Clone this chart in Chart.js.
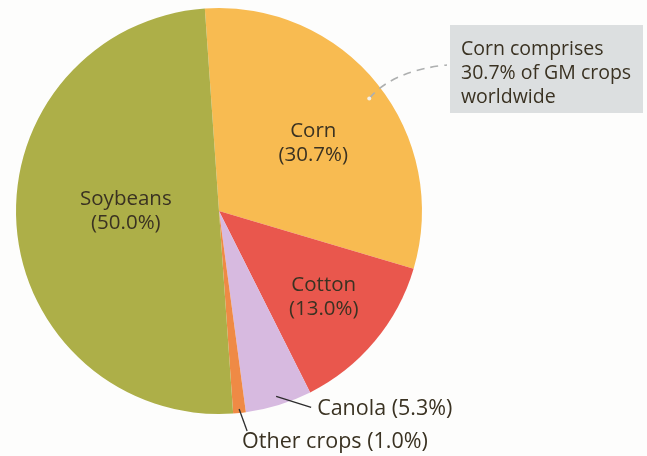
<!DOCTYPE html>
<html>
<head>
<meta charset="utf-8">
<script src="https://cdn.jsdelivr.net/npm/chart.js@4/dist/chart.umd.min.js"></script>
<style>
  html, body { margin: 0; padding: 0; background: #fdfdfc; }
  #wrap { width: 647px; height: 456px; }
</style>
</head>
<body>
<div id="wrap"><canvas id="pie" width="647" height="456"></canvas></div>
<script>
const crops = ['Corn', 'Cotton', 'Canola', 'Other crops', 'Soybeans'];
const shares = [30.7, 13.0, 5.3, 1.0, 50.0];
const sliceColors = ['#f8bb51', '#e9574d', '#d7bae0', '#ef8a45', '#adaf48'];
const calloutLines = ['Corn comprises', '30.7% of GM crops', 'worldwide'];

const FONT = '"Open Sans", "Noto Sans", sans-serif';
const INK = '#3a3222';

// where each slice's text goes: inside labels sit on the mid angle at a
// fraction of the radius, outside ones hang off a short leader line
const labelStyle = [
  { inside: true, frac: 0.57, dx: 4, dy: 5 },
  { inside: true, frac: 0.66, dx: 2, dy: 0 },
  { inside: false, frac: 0.955, ex: 35, ey: 11, tx: 6, ty: 2 },
  { inside: false, frac: 0.98, ex: 8, ey: 22, tx: -5, ty: 11 },
  { inside: true, frac: 0.46, dx: 0, dy: -6 }
];

const labelPlugin = {
  id: 'sliceLabels',
  afterDatasetsDraw(chart) {
    const ctx = chart.ctx;
    const arcs = chart.getDatasetMeta(0).data;
    ctx.save();
    ctx.fillStyle = INK;
    arcs.forEach((arc, i) => {
      const st = labelStyle[i];
      const mid = (arc.startAngle + arc.endAngle) / 2;
      const r = arc.outerRadius * st.frac;
      const px = arc.x + Math.cos(mid) * r;
      const py = arc.y + Math.sin(mid) * r;
      const pct = '(' + shares[i].toFixed(1) + '%)';
      if (st.inside) {
        const cx = px + st.dx, cy = py + st.dy;
        ctx.font = '20.5px ' + FONT;
        ctx.textAlign = 'center';
        ctx.textBaseline = 'middle';
        ctx.fillText(crops[i], cx, cy - 12);
        ctx.fillText(pct, cx, cy + 12);
      } else {
        const ex = px + st.ex, ey = py + st.ey;
        ctx.strokeStyle = '#2c2c2c';
        ctx.lineWidth = 1.3;
        ctx.beginPath();
        ctx.moveTo(px, py);
        ctx.lineTo(ex, ey);
        ctx.stroke();
        ctx.font = '21.5px ' + FONT;
        ctx.textAlign = 'left';
        ctx.textBaseline = 'middle';
        ctx.fillText(crops[i] + ' ' + pct, ex + st.tx, ey + st.ty);
      }
    });

    // callout box pointing at the corn slice
    const corn = arcs[0];
    const cMid = (corn.startAngle + corn.endAngle) / 2 + 0.033;
    const ax = corn.x + Math.cos(cMid) * corn.outerRadius * 0.925;
    const ay = corn.y + Math.sin(cMid) * corn.outerRadius * 0.925;
    const box = { x: 450, y: 25, w: 193, h: 88 };
    ctx.fillStyle = '#dcdfe0';
    ctx.fillRect(box.x, box.y, box.w, box.h);

    ctx.strokeStyle = '#aeb0b0';
    ctx.lineWidth = 1.6;
    ctx.setLineDash([8, 6]);
    ctx.beginPath();
    ctx.moveTo(ax, ay);
    ctx.quadraticCurveTo(ax + 24, ay - 28, box.x - 3, box.y + 40);
    ctx.stroke();
    ctx.setLineDash([]);
    ctx.fillStyle = '#f4f0e6';
    ctx.beginPath();
    ctx.arc(ax, ay, 2, 0, Math.PI * 2);
    ctx.fill();

    ctx.fillStyle = INK;
    ctx.font = '19.5px ' + FONT;
    ctx.textAlign = 'left';
    ctx.textBaseline = 'alphabetic';
    calloutLines.forEach((t, k) => ctx.fillText(t, box.x + 11, box.y + 30 + k * 24));
    ctx.restore();
  }
};

new Chart(document.getElementById('pie'), {
  type: 'pie',
  data: {
    labels: crops,
    datasets: [{
      data: shares,
      backgroundColor: sliceColors,
      borderWidth: 0
    }]
  },
  options: {
    responsive: false,
    animation: false,
    rotation: -4,
    layout: { padding: { left: 16, top: 8, right: 225, bottom: 42 } },
    plugins: {
      legend: { display: false },
      tooltip: { enabled: false }
    }
  },
  plugins: [labelPlugin]
});
</script>
</body>
</html>
